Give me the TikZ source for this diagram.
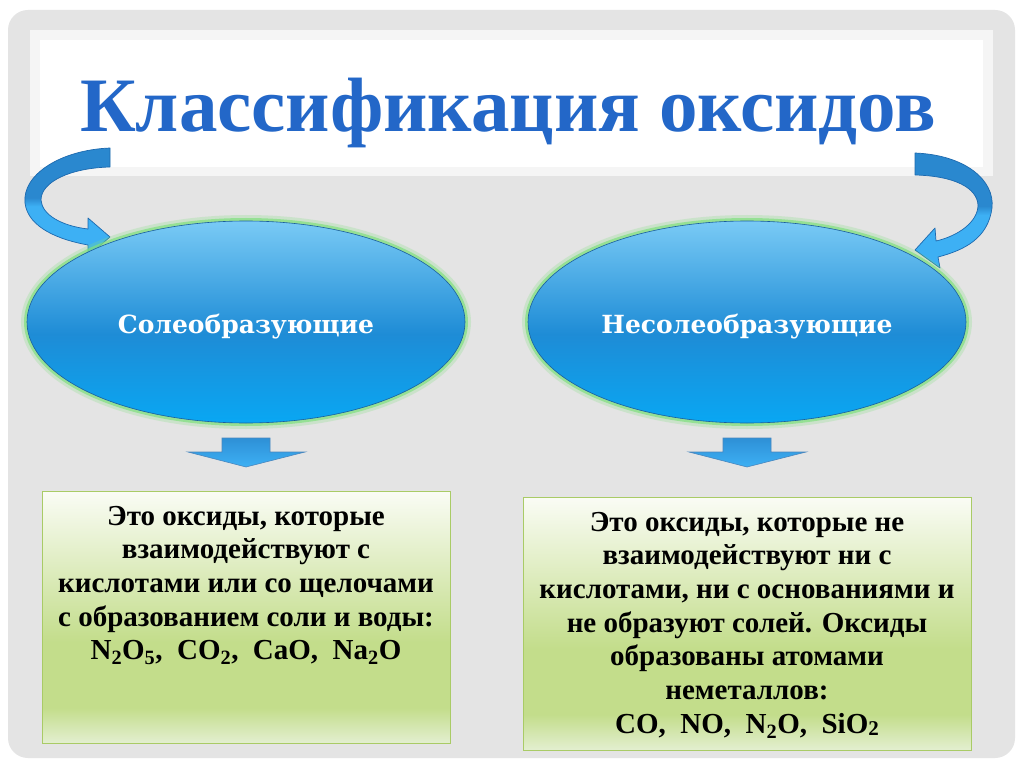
\documentclass[tikz,border=0pt]{standalone}
\usepackage{fontspec}
\setmainfont{Liberation Serif}
\newfontfamily\ovalfont{DejaVu Serif}
\usepackage{tikz}
\usetikzlibrary{shapes.geometric}
\usetikzlibrary{positioning}

\definecolor{pagegray}{HTML}{E4E4E4}
\definecolor{titleblue}{HTML}{2367C8}
\definecolor{ovaltop}{HTML}{79CAF5}
\definecolor{ovalmid}{HTML}{1E8CD6}
\definecolor{ovalbot}{HTML}{09A7F3}
\definecolor{ovalline}{HTML}{1A5E9E}
\definecolor{glowgreen}{HTML}{7FE07E}
\definecolor{boxgreen}{HTML}{C3DD8B}
\definecolor{boxbot}{HTML}{E3EFD0}
\definecolor{boxtop}{HTML}{FAFCF5}
\definecolor{boxline}{HTML}{A9CB66}
\definecolor{arrdark}{HTML}{2A88CF}
\definecolor{arrlight}{HTML}{3DB0F4}
\definecolor{arrline}{HTML}{1D69AE}

\pgfdeclareverticalshading{ovalshade}{100bp}{color(0bp)=(ovalbot); color(25bp)=(ovalbot); color(47bp)=(ovalmid); color(75bp)=(ovaltop); color(100bp)=(ovaltop)}
\pgfdeclareverticalshading{boxshade}{100bp}{color(0bp)=(boxbot); color(25bp)=(boxbot); color(32bp)=(boxgreen); color(45bp)=(boxgreen); color(75bp)=(boxtop); color(100bp)=(boxtop)}
\pgfdeclareverticalshading{ribbonshade}{100bp}{color(0bp)=(arrlight); color(25bp)=(arrlight); color(48bp)=(arrlight); color(52bp)=(arrdark); color(75bp)=(arrdark); color(100bp)=(arrdark)}

\begin{document}
\begin{tikzpicture}[x=1pt,y=-1pt,
	titletext/.style={text=titleblue,font=\bfseries\fontsize{77}{86}\selectfont,inner sep=0pt,anchor=base},
	oval/.style={ellipse,minimum width=438pt,minimum height=202pt,inner sep=0pt,text height=22pt,text depth=0pt,shading=ovalshade,draw=ovalline,line width=0.6pt,
		preaction={draw=glowgreen,line width=12pt,opacity=0.25},preaction={draw=glowgreen,line width=6pt,opacity=0.7},
		text=white,font=\ovalfont\bfseries\fontsize{25}{30}\selectfont},
	notebox/.style={rectangle,shading=boxshade,draw=boxline,line width=0.8pt,inner sep=0pt},
	boxtext/.style={align=center,inner sep=0pt,font=\bfseries\fontsize{29}{33.7}\selectfont},
	ribbon/.style={shading=ribbonshade,draw=arrline,line width=0.7pt,line join=round},
	blockarrow/.style={top color=arrdark!80!arrlight,bottom color=arrlight,draw=arrline!80,line width=0.6pt}]
\useasboundingbox (0,0) rectangle (1024,767);
\fill[white] (0,0) rectangle (1024,767);
\fill[pagegray,rounded corners=20pt] (8,10) rectangle (1015,758);
\fill[white!96!black] (30,30) rectangle (993,176);
\fill[white] (40,40) rectangle (983,167);

% title
\node[titletext] (title) at (508,132) {Классификация оксидов};

% curved arrows
\draw[ribbon] (110,148) .. controls (60,150) and (22,175) .. (25,203) .. controls (28,228) and (60,240) .. (88,245) -- (88,256) -- (110,237) -- (88,218) -- (88,229) .. controls (62,226) and (42,215) .. (41,200) .. controls (41,182) and (70,168) .. (110,167) -- cycle;
\draw[ribbon] (915,153) .. controls (965,155) and (995,180) .. (992,208) .. controls (988,238) and (965,250) .. (938,257) -- (940,268) -- (915,250) -- (935,228) -- (936,241) .. controls (958,236) and (978,222) .. (978,205) .. controls (977,188) and (955,176) .. (915,175) -- cycle;

% ovals
\node[oval] (salt) at (246,322) {Солеобразующие};
\node[oval] (nosalt) at (747,322) {Несолеобразующие};

% block arrows
\draw[blockarrow] (222,438) -- (270,438) -- (270,452) -- (305,452) -- (246,467) -- (188,452) -- (222,452) -- cycle;
\draw[blockarrow] (723,438) -- (771,438) -- (771,452) -- (806,452) -- (747,467) -- (689,452) -- (723,452) -- cycle;

% boxes
\node[notebox,minimum width=408pt,minimum height=252pt] (saltbox) at (246,617) {};
\node[notebox,minimum width=448pt,minimum height=253pt] (nosaltbox) at (747,623.5) {};
\node[boxtext,below=15pt of saltbox.north] (salttext) {Это оксиды, которые\\взаимодействуют с\\кислотами или со щелочами\\с образованием соли и воды:\\N\textsubscript{2}O\textsubscript{5},\ \ CO\textsubscript{2},\ \ CaO,\ \ Na\textsubscript{2}O};
\node[boxtext,below=15pt of nosaltbox.north] (nosalttext) {Это оксиды, которые не\\взаимодействуют ни с\\кислотами, ни с основаниями и\\не образуют солей. Оксиды\\образованы атомами\\неметаллов:\\CO,\ \ NO,\ \ N\textsubscript{2}O,\ \ SiO\raisebox{-2pt}{\fontsize{21}{21}\selectfont 2}};
\end{tikzpicture}
\end{document}
